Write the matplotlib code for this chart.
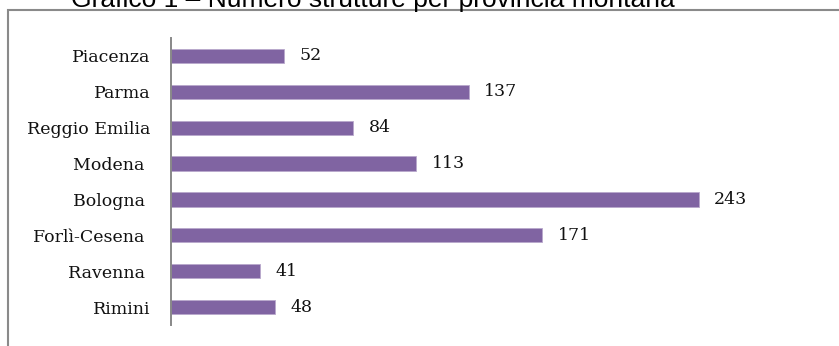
import matplotlib.pyplot as plt
from matplotlib.patches import Rectangle

provinces = ['Piacenza', 'Parma', 'Reggio Emilia', 'Modena ', 'Bologna ',
             'Forlì-Cesena ', 'Ravenna ', 'Rimini']
structures = [52, 137, 84, 113, 243, 171, 41, 48]

bar_color = '#8064A2'

fig = plt.figure(figsize=(8.39, 3.46), dpi=100)
ax = fig.add_axes([171 / 839, 21 / 346, 543 / 839, 287 / 346])

ypos = list(range(len(provinces)))
ax.barh(ypos, structures, height=0.4, color=bar_color,
        edgecolor='#b9a8cc', linewidth=0.6)

for y, v in zip(ypos, structures):
    ax.text(v + 7, y, str(v), va='center', ha='left',
            fontsize=12.5, family='DejaVu Serif', color='#111111')

ax.set_xlim(0, 250)
ax.set_ylim(len(provinces) - 0.5, -0.5)
ax.set_yticks(ypos)
ax.set_yticklabels(provinces, family='DejaVu Serif', fontsize=12.5, color='#111111')
ax.tick_params(axis='y', length=0, pad=15)
ax.set_xticks([])
for side in ['top', 'right', 'bottom']:
    ax.spines[side].set_visible(False)
ax.spines['left'].set_color('#888888')
ax.spines['left'].set_linewidth(1.4)

# outer chart border (only top and left visible in the crop)
fig.patches.append(Rectangle((8 / 839, -0.1), 1.2, 1 - 10 / 346 + 0.1,
                             transform=fig.transFigure, fill=False,
                             edgecolor='#8a8a8a', linewidth=1.5))

fig.text(373 / 839, 1 - 7 / 346, 'Grafico 1 – Numero strutture per provincia montana',
         ha='center', va='baseline', fontsize=19, family='Liberation Sans')

fig.savefig('out.png', dpi=100)
